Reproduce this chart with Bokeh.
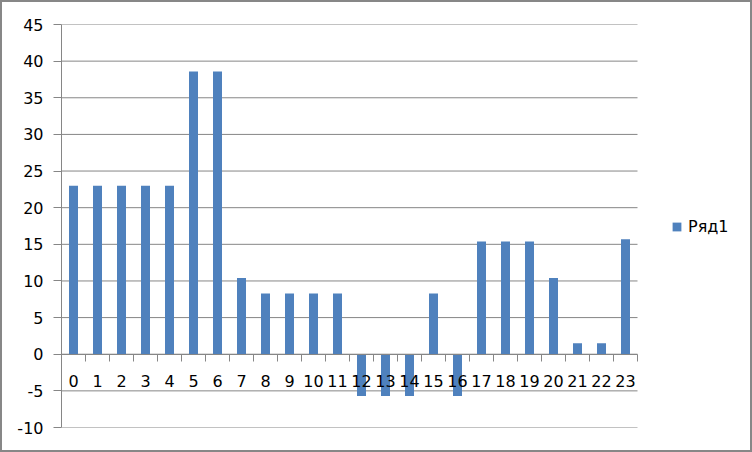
from bokeh.plotting import figure
from bokeh.models import Range1d, LinearAxis, FixedTicker, Legend, LegendItem
from bokeh.embed import file_html
from bokeh.resources import INLINE

hours = list(range(24))
values = [23, 23, 23, 23, 23, 38.6, 38.6, 10.4, 8.3, 8.3, 8.3, 8.3,
          -5.7, -5.7, -5.7, 8.3, -5.7, 15.4, 15.4, 15.4, 10.4, 1.5, 1.5, 15.7]
y_ticks = [-10, -5, 0, 5, 10, 15, 20, 25, 30, 35, 40, 45]
series_name = "Ряд1"

FONT = "DejaVu Sans"
FS = "16px"
GRID = "#868686"
BAR = "#4F81BD"

W, H, BORDER = 752, 452, 2
LEFT, RIGHT, TOP, BOTTOM = 59, 2, 22, 27
CAT_AREA = 576  # pixel width of the category area
frame_w = W - LEFT - RIGHT
x_start = -0.5
x_cat_end = len(hours) - 0.5
x_end = x_start + len(hours) * frame_w / CAT_AREA

p = figure(width=W, height=H, output_backend="svg", toolbar_location=None,
           x_range=Range1d(x_start, x_end), y_range=Range1d(min(y_ticks), max(y_ticks)),
           x_axis_location=None, min_border_left=LEFT, min_border_right=RIGHT,
           min_border_top=TOP, min_border_bottom=BOTTOM)
p.styles = {"border": f"{BORDER}px solid #878787"}
p.outline_line_color = None
p.background_fill_color = "white"
p.border_fill_color = "white"
p.xgrid.grid_line_color = None
p.ygrid.grid_line_color = None

# horizontal gridlines limited to the category area
p.segment(x0=[x_start] * len(y_ticks), x1=[x_cat_end] * len(y_ticks),
          y0=y_ticks, y1=y_ticks, line_color=GRID, line_width=1)

r = p.vbar(x=hours, top=values, bottom=0, width=0.375, fill_color=BAR, line_color=None)

# y axis
yax = p.yaxis[0]
yax.ticker = FixedTicker(ticks=y_ticks)
yax.major_label_overrides = {t: str(t) for t in y_ticks}
yax.axis_line_color = GRID
yax.major_tick_line_color = GRID
yax.major_tick_out = 8
yax.major_tick_in = 0
yax.minor_tick_line_color = None
yax.major_label_standoff = 10
yax.major_label_text_font = FONT
yax.major_label_text_font_size = FS
yax.major_label_text_color = "black"

# x axis ticks between categories
bounds = [h + 0.5 for h in hours]
xt = LinearAxis(ticker=FixedTicker(ticks=bounds), fixed_location=0,
                bounds=(x_start, x_cat_end))
xt.axis_line_color = GRID
xt.major_tick_line_color = GRID
xt.major_tick_out = 7
xt.major_tick_in = 0
xt.minor_tick_line_color = None
xt.major_label_text_font_size = "0px"
xt.major_label_text_alpha = 0
p.add_layout(xt, "below")

# x axis labels at category centers
xl = LinearAxis(ticker=FixedTicker(ticks=hours), fixed_location=0,
                bounds=(x_start, x_cat_end))
xl.axis_line_color = None
xl.major_tick_line_color = None
xl.minor_tick_line_color = None
xl.major_label_standoff = 15
xl.major_label_text_font = FONT
xl.major_label_text_font_size = FS
xl.major_label_text_color = "black"
p.add_layout(xl, "below")

legend = Legend(items=[LegendItem(label=series_name, renderers=[r])],
                location=(610, 191), padding=0, margin=0, spacing=0,
                border_line_color=None, background_fill_alpha=0,
                glyph_width=11, glyph_height=11, label_height=20,
                label_standoff=6, label_text_font=FONT,
                label_text_font_size=FS, label_text_color="black")
p.add_layout(legend, "center")

open("out.html", "w").write(file_html(p, INLINE))
